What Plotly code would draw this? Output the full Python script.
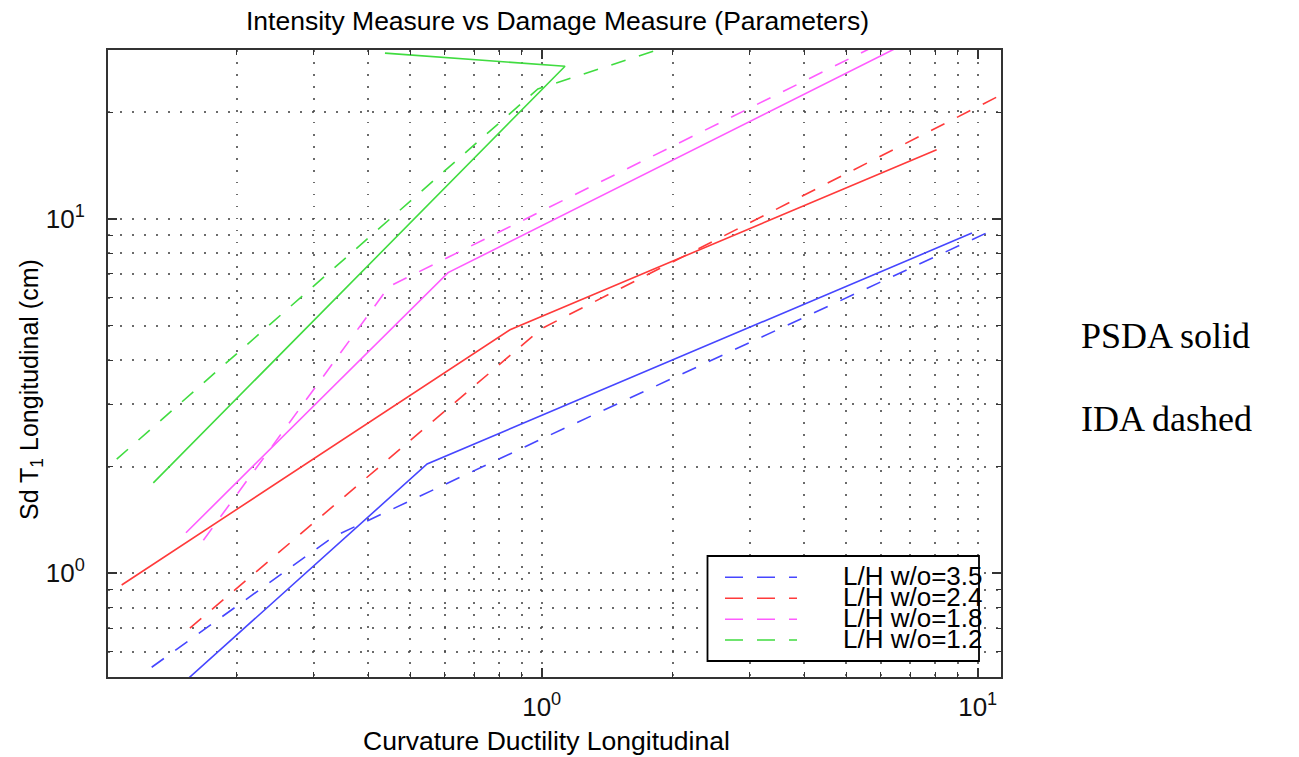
import plotly.graph_objects as go

# L/H w/o ratios and their colours
ratios = ["3.5", "2.4", "1.8", "1.2"]
colors = ["#4646ff", "#ff3a3a", "#ff5cff", "#40dc40"]

# PSDA curves (solid): curvature ductility vs Sd(T1)
psda_x_35 = [0.15, 0.546, 9.7]
psda_y_35 = [0.488, 2.035, 9.13]
psda_x_24 = [0.1088, 0.846, 8.05]
psda_y_24 = [0.927, 4.87, 15.7]
psda_x_18 = [0.1528, 0.61, 7.0]
psda_y_18 = [1.302, 7.06, 31.8]
psda_x_12 = [0.1286, 1.131, 0.437]
psda_y_12 = [1.80, 27.0, 29.4]

# IDA curves (dashed)
ida_x_35 = [0.1275, 0.332, 1.045, 10.5]
ida_y_35 = [0.543, 1.266, 2.457, 9.15]
ida_x_24 = [0.156, 1.0, 11.3]
ida_y_24 = [0.70, 4.91, 22.4]
ida_x_18 = [0.1675, 0.4465, 6.0]
ida_y_18 = [1.24, 6.45, 31.4]
ida_x_12 = [0.106, 0.98, 1.9]
ida_y_12 = [2.10, 23.3, 30.4]

psda = [(psda_x_35, psda_y_35), (psda_x_24, psda_y_24),
        (psda_x_18, psda_y_18), (psda_x_12, psda_y_12)]
ida = [(ida_x_35, ida_y_35), (ida_x_24, ida_y_24),
       (ida_x_18, ida_y_18), (ida_x_12, ida_y_12)]

# axis tick positions
x_major = [1, 10]
x_major_text = ["10<sup>0</sup>", "10<sup>1</sup>"]
x_minor = [0.2, 0.3, 0.4, 0.5, 0.6, 0.7, 0.8, 0.9, 2, 3, 4, 5, 6, 7, 8, 9]
y_major = [1, 10]
y_major_text = ["10<sup>0</sup>", "10<sup>1</sup>"]
y_minor = [0.6, 0.7, 0.8, 0.9, 2, 3, 4, 5, 6, 7, 8, 9, 20, 30]

W, H = 1299, 757
L, R, T, B = 108, 1001, 50, 677
FONT = "Liberation Sans, Arial, sans-serif"
DASH = "15px,14px"


def px(x):
    return (x - L) / (R - L)


def py(y):
    return (B - y) / (B - T)


fig = go.Figure()
for (xs, ys), c, r in zip(psda, colors, ratios):
    fig.add_trace(go.Scatter(x=xs, y=ys, mode="lines", name="PSDA " + r,
                             line=dict(color=c, width=1.6), showlegend=False))
for (xs, ys), c, r in zip(ida, colors, ratios):
    fig.add_trace(go.Scatter(x=xs, y=ys, mode="lines", name="IDA " + r,
                             line=dict(color=c, width=1.6, dash=DASH),
                             showlegend=False))

grid = dict(gridcolor="rgba(70,70,70,0.8)", gridwidth=1.5, griddash="1.5px,10.5px")
axis_common = dict(
    type="log", ticks="inside", ticklen=9, tickwidth=1.5, tickcolor="#333",
    showline=True, linecolor="#333", linewidth=2, mirror="allticks",
    showgrid=True, zeroline=False,
    tickfont=dict(family=FONT, size=26, color="#111"),
    **grid,
)

fig.update_xaxes(
    range=[-0.9947, 1.0534], tickmode="array", tickvals=x_major,
    ticktext=x_major_text, ticklabelstandoff=6,
    minor=dict(tickmode="array", tickvals=x_minor, ticks="inside", ticklen=5,
               tickwidth=1.2, tickcolor="#333", showgrid=True, **grid),
    **axis_common,
)
fig.update_yaxes(
    range=[-0.2927, 1.4773], tickmode="array", tickvals=y_major,
    ticktext=y_major_text, ticklabelstandoff=16,
    minor=dict(tickmode="array", tickvals=y_minor, ticks="inside", ticklen=5,
               tickwidth=1.2, tickcolor="#333", showgrid=True, **grid),
    **axis_common,
)

shapes = []
annotations = []

# legend box with dashed samples
shapes.append(dict(type="rect", xref="paper", yref="paper",
                   x0=px(707.5), x1=px(979), y0=py(661), y1=py(556),
                   line=dict(color="#000", width=1.8), fillcolor="white",
                   layer="above"))
rows = [577.3, 598.3, 619.3, 640.0]
for r, c, yy in zip(ratios, colors, rows):
    shapes.append(dict(type="line", xref="paper", yref="paper",
                       x0=px(725), x1=px(797), y0=py(yy), y1=py(yy),
                       line=dict(color=c, width=1.6, dash="18px,14px"),
                       layer="above"))
    annotations.append(dict(text="L/H w/o=" + r, xref="paper", yref="paper",
                            x=px(984), y=py(yy - 1.5), xanchor="right",
                            yanchor="middle", showarrow=False,
                            font=dict(family=FONT, size=26, color="#000")))

# titles
annotations.append(dict(text="Intensity Measure vs Damage Measure (Parameters)",
                        xref="paper", yref="paper", x=px(557), y=py(21),
                        xanchor="center", yanchor="middle", showarrow=False,
                        font=dict(family=FONT, size=26.5, color="#000")))
annotations.append(dict(text="Curvature Ductility Longitudinal",
                        xref="paper", yref="paper", x=px(546), y=py(741),
                        xanchor="center", yanchor="middle", showarrow=False,
                        font=dict(family=FONT, size=26.5, color="#000")))
annotations.append(dict(text="Sd T<sub>1</sub> Longitudinal (cm)",
                        xref="paper", yref="paper", x=px(31), y=py(390),
                        xanchor="center", yanchor="middle", textangle=-90,
                        showarrow=False,
                        font=dict(family=FONT, size=25, color="#000")))

# method key
annotations.append(dict(text="PSDA solid", xref="paper", yref="paper",
                        x=px(1079), y=py(336), xanchor="left", yanchor="middle",
                        showarrow=False,
                        font=dict(family="Liberation Serif, Times New Roman, serif",
                                  size=36, color="#000")))
annotations.append(dict(text="IDA dashed", xref="paper", yref="paper",
                        x=px(1079), y=py(419), xanchor="left", yanchor="middle",
                        showarrow=False,
                        font=dict(family="Liberation Serif, Times New Roman, serif",
                                  size=36, color="#000")))

fig.update_layout(
    width=W, height=H,
    margin=dict(l=L, r=W - R, t=T, b=H - B),
    paper_bgcolor="white", plot_bgcolor="white",
    showlegend=False, shapes=shapes, annotations=annotations,
)

fig.write_html("out.html")
